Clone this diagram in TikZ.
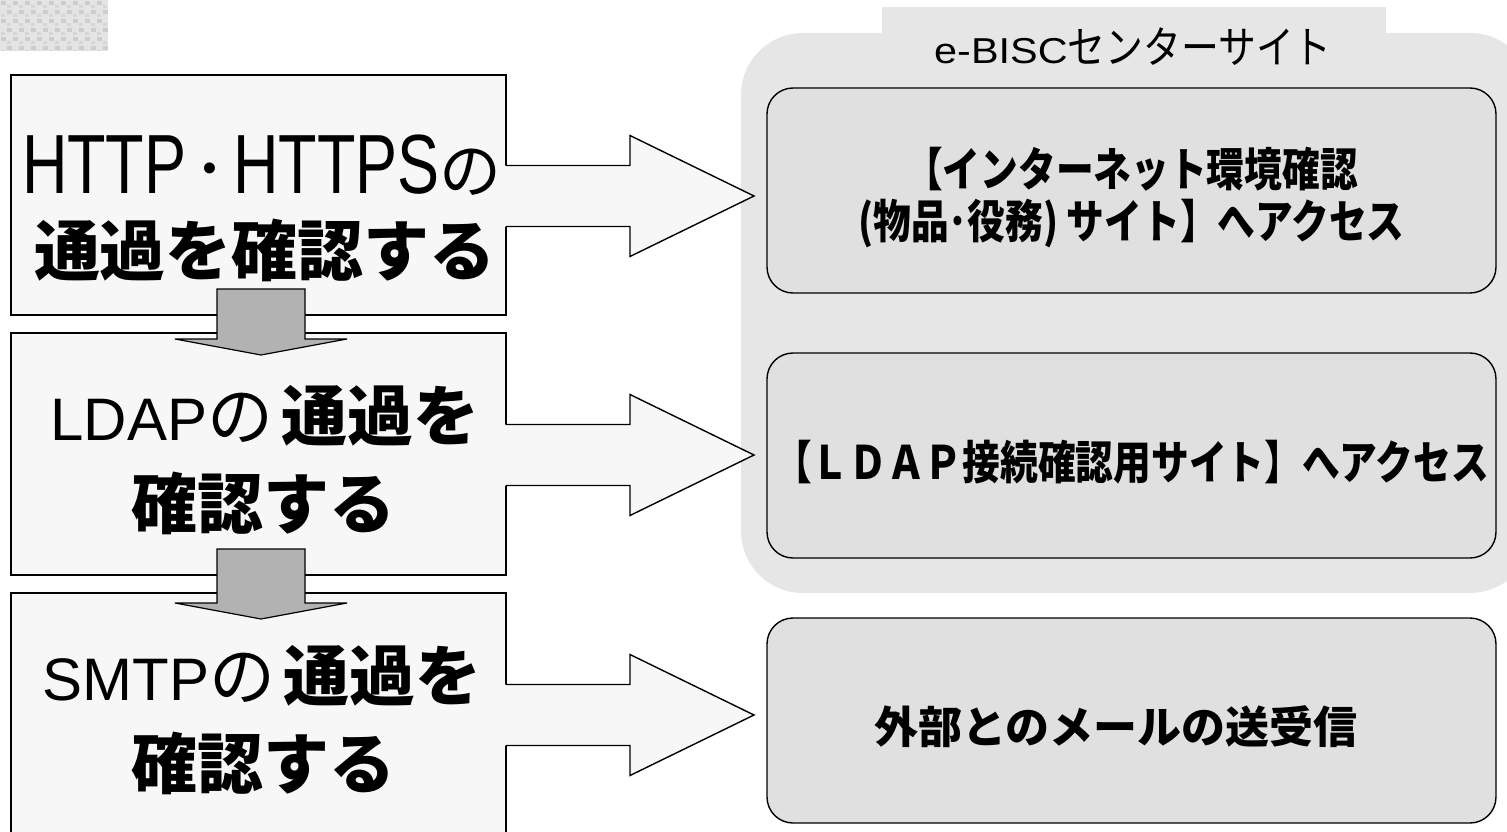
\documentclass[tikz,border=0pt]{standalone}
\usepackage{fontspec}
\setmainfont{Liberation Sans}
\newfontfamily\jp{Noto Sans CJK JP}
\newfontfamily\jpc[FakeStretch=0.82]{Noto Sans CJK JP}
\newfontfamily\jpt[FakeStretch=0.86]{Noto Sans CJK JP}
\newfontfamily\latb[FakeStretch=0.75]{Liberation Sans}
\newfontfamily\latt[FakeStretch=1.15]{Liberation Sans}
\definecolor{boxfill}{HTML}{F7F7F7}
\definecolor{grpfill}{HTML}{E6E6E6}
\definecolor{innerfill}{HTML}{E0E0E0}
\definecolor{darrfill}{HTML}{B2B2B2}
\definecolor{texa}{HTML}{E4E4E4}
\definecolor{texb}{HTML}{CDCDCD}
\newcommand\rarr[1]{%
  \fill[boxfill] (503,#1-30.5) -- (630,#1-30.5) -- (630,#1-60.5) -- (754,#1) -- (630,#1+60.5) -- (630,#1+30.5) -- (503,#1+30.5) -- cycle;
  \draw[line width=1.4pt,line join=miter] (506,#1-30.5) -- (630,#1-30.5) -- (630,#1-60.5) -- (754,#1) -- (630,#1+60.5) -- (630,#1+30.5) -- (506,#1+30.5);}
\newcommand\darr[2]{%
  \draw[fill=darrfill,line width=1.2pt,line join=miter] (217,#1) -- (305,#1) -- (305,#2) -- (347,#2) -- (261,#2+16) -- (175,#2) -- (217,#2) -- cycle;}
\tikzset{
  leftbox/.style={draw,fill=boxfill,line width=1.2pt,inner sep=0pt},
  innerbox/.style={draw,fill=innerfill,line width=1.4pt,rounded corners=26pt,inner sep=0pt,minimum width=729pt,minimum height=205pt},
  lefttext/.style={anchor=base,inner sep=0pt,font=\fontsize{66}{66}\selectfont},
  boxtext/.style={align=center,inner sep=0pt,font=\jpc\bfseries\fontsize{46}{52}\selectfont},
}
\begin{document}
\begin{tikzpicture}[x=1pt,y=-1pt]
\useasboundingbox (0,0) rectangle (1507,832);
% textured corner square
\begin{scope}
\clip (0,0) rectangle (108,51);
\fill[texa] (0,0) rectangle (108,51);
\foreach \i in {0,...,9}{\foreach \j in {0,...,5}{
  \fill[texb] ({\i*12+1+mod(\j,2)*6},{\j*9+1}) rectangle ++(5,4);
  \fill[texb!60!texa] ({\i*12+7-mod(\j,2)*6},{\j*9+5}) rectangle ++(4,3);
}}
\end{scope}
% right group
\fill[grpfill,rounded corners=62pt] (741,33) rectangle (1532,593);
\fill[grpfill] (882,7) rectangle (1386,40);
\node[inner sep=0pt,anchor=base] (title) at (1133,64) {{\latt\fontsize{36}{36}\selectfont e-BISC}{\jpt\fontsize{44}{44}\selectfont センターサイト}};
\node[innerbox] (ra) at (1131.5,190.5) {};
\node[innerbox] (rb) at (1131.5,455.5) {};
\node[innerbox] (rc) at (1131.5,720.5) {};
% left boxes
\node[leftbox,line width=2.6pt,minimum width=495pt,minimum height=240pt] (b1) at (258.5,195) {};
\node[leftbox,minimum width=495pt,minimum height=242pt] (b2) at (258.5,454) {};
\node[leftbox,minimum width=495pt,minimum height=260pt] (b3) at (258.5,723) {};
% down arrows
\darr{289}{339}
\darr{549}{603}
% right arrows
\rarr{196}
\rarr{455}
\rarr{715}
% texts
\node[lefttext] (t1a) at (262,193) {{\latb\fontsize{84}{84}\selectfont HTTP}\hspace{7pt}{\jp ･}\hspace{7pt}{\latb\fontsize{84}{84}\selectfont HTTPS}{\jp\fontsize{62}{62}\selectfont の}};
\node[lefttext] (t1b) at (265,275) {\jp\bfseries 通過を確認する};
\node[lefttext] (t2a) at (265,440) {{\fontsize{60}{60}\selectfont LDAP}{\jp の}\hspace{8pt}{\jp\bfseries 通過を}};
\node[lefttext] (t2b) at (263,528) {\jp\bfseries 確認する};
\node[lefttext] (t3a) at (262,700) {{\fontsize{60}{60}\selectfont SMTP}{\jp の}\hspace{8pt}{\jp\bfseries 通過を}};
\node[lefttext] (t3b) at (263,788) {\jp\bfseries 確認する};
\node[boxtext] (ta) at (1131.5,198) {【インターネット環境確認\\(物品･役務) サイト】へアクセス};
\node[boxtext] (tb) at (1131.5,462) {【ＬＤＡＰ接続確認用サイト】へアクセス};
\node[boxtext,font=\jp\bfseries\fontsize{44}{52}\selectfont] (tc) at (1116,727) {外部とのメールの送受信};
\end{tikzpicture}
\end{document}
